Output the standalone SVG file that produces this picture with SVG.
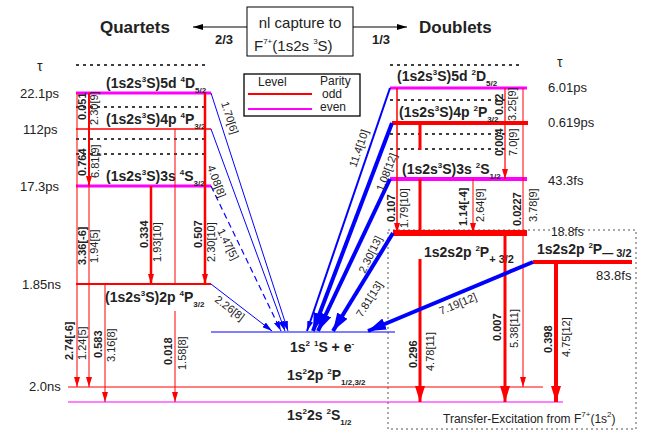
<svg xmlns="http://www.w3.org/2000/svg" width="649" height="439" viewBox="0 0 649 439">
<style>
text{font-family:"Liberation Sans",Arial,sans-serif;fill:#222}
.b{font-weight:bold}
.lv{font-weight:bold;font-size:14px}
.n{font-size:11px}
.nb{font-size:11px;font-weight:bold}
.big{font-weight:bold;font-size:17px}
.sub{font-size:8px}
.r{stroke:#f00;fill:none}
.m{stroke:#f0f;fill:none}
.bl{stroke:#00f;fill:none}
.dot{stroke:#000;stroke-width:1.3;stroke-dasharray:3,4}
</style>
<defs>
<marker id="rs" markerUnits="userSpaceOnUse" markerWidth="10" markerHeight="6" refX="10" refY="3" orient="auto" viewBox="0 0 10 6"><path d="M0,0L10,3L0,6Z" fill="#f00"/></marker>
<marker id="rb" markerUnits="userSpaceOnUse" markerWidth="16" markerHeight="10" refX="16" refY="5" orient="auto" viewBox="0 0 16 10"><path d="M0,0L16,5L0,10Z" fill="#f00"/></marker>
<marker id="bs" markerUnits="userSpaceOnUse" markerWidth="10" markerHeight="6" refX="10" refY="3" orient="auto" viewBox="0 0 10 6"><path d="M0,0L10,3L0,6Z" fill="#00f"/></marker>
<marker id="bb" markerUnits="userSpaceOnUse" markerWidth="18" markerHeight="12" refX="18" refY="6" orient="auto" viewBox="0 0 18 12"><path d="M0,0L18,6L0,12Z" fill="#00f"/></marker>
<marker id="k" markerUnits="userSpaceOnUse" markerWidth="10" markerHeight="6" refX="10" refY="3" orient="auto" viewBox="0 0 10 6"><path d="M0,0L10,3L0,6Z" fill="#000"/></marker>
</defs>

<g id="header">
<rect x="247" y="7" width="106" height="49" fill="none" stroke="#000"/>
<text x="300" y="28" font-size="15" text-anchor="middle">nl capture to</text>
<text x="254" y="51" font-size="15">F<tspan class="sub" dy="-7">7+</tspan><tspan dy="7">(1s2s  </tspan><tspan class="sub" dy="-7">3</tspan><tspan dy="7">S)</tspan></text>
<line x1="247" y1="27" x2="193" y2="27" stroke="#000" marker-end="url(#k)"/>
<line x1="353" y1="27" x2="407" y2="27" stroke="#000" marker-end="url(#k)"/>
<text x="100" y="33" class="big">Quartets</text>
<text x="419" y="33" class="big">Doublets</text>
<text x="215" y="44" class="b" font-size="13">2/3</text>
<text x="372" y="44" class="b" font-size="13">1/3</text>
</g>

<g id="legend">
<rect x="244" y="74" width="116" height="42" fill="#fff" stroke="#000" stroke-width="1.3"/>
<text x="258" y="86" font-size="12">Level</text>
<text x="320" y="85" font-size="12">Parity</text>
<line x1="248" y1="94" x2="312" y2="94" class="r" stroke-width="2"/>
<text x="322" y="98" font-size="12">odd</text>
<line x1="248" y1="109" x2="312" y2="109" class="m" stroke-width="2"/>
<text x="320" y="111" font-size="12">even</text>
</g>

<g id="dotted">
<line x1="76" y1="65" x2="207" y2="65" class="dot"/>
<line x1="76" y1="107" x2="205" y2="107" class="dot"/>
<line x1="76" y1="139" x2="205" y2="139" class="dot"/>
<line x1="76" y1="154" x2="205" y2="154" class="dot"/>
<line x1="390" y1="65" x2="522" y2="65" class="dot"/>
<line x1="390" y1="100" x2="505" y2="100" class="dot"/>
<line x1="390" y1="134" x2="505" y2="134" class="dot"/>
<line x1="390" y1="149" x2="505" y2="149" class="dot"/>
<rect x="388" y="230" width="248" height="199" fill="none" stroke="#555" stroke-dasharray="2,3"/>
</g>

<g id="quartet-levels">
<text x="37" y="71" font-size="14">τ</text>
<line x1="76" y1="93" x2="211" y2="93" class="m" stroke-width="3"/>
<text x="106" y="88" class="lv">(1s2s<tspan class="sub" dy="-6">3</tspan><tspan dy="6">S)5d </tspan><tspan class="sub" dy="-6">4</tspan><tspan dy="6">D</tspan><tspan class="sub" dy="5">5/2</tspan></text>
<line x1="76" y1="129" x2="211" y2="129" class="r" stroke-width="1.5"/>
<text x="106" y="124" class="lv">(1s2s<tspan class="sub" dy="-6">3</tspan><tspan dy="6">S)4p </tspan><tspan class="sub" dy="-6">4</tspan><tspan dy="6">P</tspan><tspan class="sub" dy="5">3/2</tspan></text>
<line x1="76" y1="186" x2="211" y2="186" class="m" stroke-width="3"/>
<text x="106" y="181" class="lv">(1s2s<tspan class="sub" dy="-6">3</tspan><tspan dy="6">S)3s </tspan><tspan class="sub" dy="-6">4</tspan><tspan dy="6">S</tspan><tspan class="sub" dy="5">3/2</tspan></text>
<line x1="76" y1="284" x2="211" y2="284" class="r" stroke-width="2"/>
<text x="105" y="302" class="lv">(1s2s<tspan class="sub" dy="-6">3</tspan><tspan dy="6">S)2p </tspan><tspan class="sub" dy="-6">4</tspan><tspan dy="6">P</tspan><tspan class="sub" dy="5">3/2</tspan></text>
<text x="20" y="98" font-size="13">22.1ps</text>
<text x="23" y="134" font-size="13">112ps</text>
<text x="20" y="191" font-size="13">17.3ps</text>
<text x="22" y="289" font-size="13">1.85ns</text>
<text x="29" y="391" font-size="13">2.0ns</text>
</g>

<g id="doublet-levels">
<text x="557" y="67" font-size="14">τ</text>
<line x1="390" y1="88" x2="527" y2="88" class="m" stroke-width="3"/>
<text x="397" y="81" class="lv">(1s2s<tspan class="sub" dy="-6">3</tspan><tspan dy="6">S)5d </tspan><tspan class="sub" dy="-6">2</tspan><tspan dy="6">D</tspan><tspan class="sub" dy="5">5/2</tspan></text>
<line x1="392" y1="123" x2="528" y2="123" class="r" stroke-width="4"/>
<text x="399" y="117" class="lv">(1s2s<tspan class="sub" dy="-6">3</tspan><tspan dy="6">S)4p </tspan><tspan class="sub" dy="-6">2</tspan><tspan dy="6">P</tspan><tspan class="sub" dy="5">3/2</tspan></text>
<line x1="390" y1="179" x2="527" y2="179" class="m" stroke-width="4"/>
<text x="402" y="174" class="lv">(1s2s<tspan class="sub" dy="-6">3</tspan><tspan dy="6">S)3s </tspan><tspan class="sub" dy="-6">2</tspan><tspan dy="6">S</tspan><tspan class="sub" dy="5">1/2</tspan></text>
<line x1="393" y1="233" x2="527" y2="233" class="r" stroke-width="6"/>
<text x="424" y="257" class="lv">1s2s2p <tspan class="sub" dy="-6">2</tspan><tspan dy="6">P</tspan><tspan font-size="11" dy="6">+ 3/2</tspan></text>
<line x1="533" y1="262" x2="632" y2="262" class="r" stroke-width="4"/>
<text x="537" y="254" class="lv">1s2s2p <tspan class="sub" dy="-6">2</tspan><tspan dy="6">P</tspan><tspan font-size="11" dy="3">— 3/2</tspan></text>
<text x="548" y="92" font-size="13">6.01ps</text>
<text x="548" y="127" font-size="13">0.619ps</text>
<text x="548" y="185" font-size="13">43.3fs</text>
<text x="551" y="236" font-size="12">18.8fs</text>
<text x="596" y="280" font-size="13">83.8fs</text>
</g>

<g id="ground-levels">
<line x1="211" y1="332" x2="395" y2="332" class="bl" stroke-width="1.2"/>
<text x="290" y="352" class="lv">1s<tspan class="sub" dy="-6">2</tspan><tspan dy="6"> </tspan><tspan class="sub" dy="-6">1</tspan><tspan dy="6">S + e</tspan><tspan class="sub" dy="-6">-</tspan></text>
<line x1="68" y1="387" x2="543" y2="387" class="r" stroke-width="1"/>
<text x="287" y="380" class="lv">1s<tspan class="sub" dy="-6">2</tspan><tspan dy="6">2p </tspan><tspan class="sub" dy="-6">2</tspan><tspan dy="6">P</tspan><tspan class="sub" dy="5">1/2,3/2</tspan></text>
<line x1="68" y1="402" x2="563" y2="402" class="m" stroke-width="1"/>
<text x="287" y="420" class="lv">1s<tspan class="sub" dy="-6">2</tspan><tspan dy="6">2s </tspan><tspan class="sub" dy="-6">2</tspan><tspan dy="6">S</tspan><tspan class="sub" dy="5">1/2</tspan></text>
<text x="443" y="423" font-size="12">Transfer-Excitation from F<tspan class="sub" dy="-6">7+</tspan><tspan dy="6">(1s</tspan><tspan class="sub" dy="-6">2</tspan><tspan dy="6">)</tspan></text>
</g>

<g id="connectors">
<line x1="77" y1="93" x2="77" y2="387" class="r" stroke-width="1" marker-end="url(#rs)"/>
<line x1="89" y1="93" x2="89" y2="186" class="r" stroke-width="2" marker-end="url(#rs)"/>
<line x1="89" y1="186" x2="89" y2="387" class="r" stroke-width="1" marker-end="url(#rs)"/>
<line x1="151" y1="186" x2="151" y2="284" class="r" stroke-width="2.5" marker-end="url(#rs)"/>
<line x1="175" y1="129" x2="175" y2="284" class="r" stroke-width="1"/>
<line x1="205" y1="93" x2="205" y2="284" class="r" stroke-width="2.5" marker-end="url(#rs)"/>
<line x1="105" y1="284" x2="105" y2="402" class="r" stroke-width="1" marker-end="url(#rs)"/>
<line x1="175" y1="311" x2="175" y2="402" class="r" stroke-width="1" marker-end="url(#rs)"/>
<line x1="211" y1="93" x2="288" y2="331" class="bl" stroke-width="1" marker-end="url(#bs)"/>
<line x1="211" y1="129" x2="285" y2="331" class="bl" stroke-width="1" marker-end="url(#bs)"/>
<line x1="211" y1="186" x2="281" y2="331" class="bl" stroke-width="1.2" stroke-dasharray="6,4" marker-end="url(#bs)"/>
<line x1="211" y1="284" x2="272" y2="331" class="bl" stroke-width="1" marker-end="url(#bs)"/>
<line x1="397" y1="88" x2="397" y2="233" class="r" stroke-width="1.5" marker-end="url(#rs)"/>
<line x1="420" y1="123" x2="420" y2="150" class="r" stroke-width="3"/>
<line x1="420" y1="179" x2="420" y2="233" class="r" stroke-width="3"/>
<line x1="505" y1="88" x2="505" y2="179" class="r" stroke-width="1.2" marker-end="url(#rs)"/>
<line x1="523" y1="88" x2="523" y2="387" class="r" stroke-width="1" marker-end="url(#rs)"/>
<line x1="473" y1="179" x2="473" y2="233" class="r" stroke-width="1" marker-end="url(#rs)"/>
<line x1="505" y1="233" x2="505" y2="402" class="r" stroke-width="3" marker-end="url(#rb)"/>
<line x1="420" y1="259" x2="420" y2="402" class="r" stroke-width="3" marker-end="url(#rb)"/>
<line x1="556" y1="262" x2="556" y2="402" class="r" stroke-width="4" marker-end="url(#rb)"/>
<line x1="390" y1="88" x2="307" y2="331" class="bl" stroke-width="2" marker-end="url(#bs)"/>
<line x1="392" y1="123" x2="313" y2="331" class="bl" stroke-width="4" marker-end="url(#bb)"/>
<line x1="390" y1="179" x2="318" y2="331" class="bl" stroke-width="4" marker-end="url(#bb)"/>
<line x1="393" y1="233" x2="333" y2="331" class="bl" stroke-width="4" marker-end="url(#bb)"/>
<line x1="533" y1="262" x2="368" y2="331" class="bl" stroke-width="4" marker-end="url(#bb)"/>
</g>

<g id="rates">
<text class="nb" transform="translate(86,120) rotate(-90)">0.051</text>
<text class="n" transform="translate(98,125) rotate(-90)">2.30[9]</text>
<text class="nb" transform="translate(86,176) rotate(-90)">0.764</text>
<text class="n" transform="translate(99,178) rotate(-90)">6.81[9]</text>
<text class="nb" transform="translate(86,265) rotate(-90)">3.36[-6]</text>
<text class="n" transform="translate(98,263) rotate(-90)">1.94[5]</text>
<text class="nb" transform="translate(148,248) rotate(-90)">0.334</text>
<text class="n" transform="translate(161,262) rotate(-90)">1.93[10]</text>
<text class="nb" transform="translate(202,248) rotate(-90)">0.507</text>
<text class="n" transform="translate(215,262) rotate(-90)">2.30[10]</text>
<text class="nb" transform="translate(73,360) rotate(-90)">2.74[-6]</text>
<text class="n" transform="translate(86,360) rotate(-90)">1.24[5]</text>
<text class="nb" transform="translate(102,358) rotate(-90)">0.583</text>
<text class="n" transform="translate(115,362) rotate(-90)">3.16[8]</text>
<text class="nb" transform="translate(172,365) rotate(-90)">0.018</text>
<text class="n" transform="translate(186,370) rotate(-90)">1.58[8]</text>
<text class="n" transform="translate(221,103) rotate(72)">1.70[6]</text>
<text class="n" transform="translate(207,167) rotate(69)">4.08[8]</text>
<text class="n" transform="translate(217,231) rotate(63)">1.47[5]</text>
<text class="n" transform="translate(214,301) rotate(37)">2.26[8]</text>
<text class="n" transform="translate(356,168) rotate(-71)">11.4[10]</text>
<text class="n" transform="translate(383,192) rotate(-69)">1.08[12]</text>
<text class="n" transform="translate(365,274) rotate(-64)">2.30[13]</text>
<text class="n" transform="translate(362,318) rotate(-58)">7.81[13]</text>
<text class="n" transform="translate(441,315) rotate(-22.7)">7.19[12]</text>
<text class="nb" transform="translate(395,222) rotate(-90)">0.107</text>
<text class="n" transform="translate(408,228) rotate(-90)">1.79[10]</text>
<text class="nb" transform="translate(503,115) rotate(-90)">0.02</text>
<text class="n" transform="translate(516,121) rotate(-90)">3.25[9]</text>
<text class="nb" transform="translate(503,156) rotate(-90)">0.004</text>
<text class="n" transform="translate(517,156) rotate(-90)">7.0[9]</text>
<text class="nb" transform="translate(467,226) rotate(-90)">1.14[-4]</text>
<text class="n" transform="translate(484,222) rotate(-90)">2.64[9]</text>
<text class="nb" transform="translate(521,226) rotate(-90)">0.0227</text>
<text class="n" transform="translate(537,222) rotate(-90)">3.78[9]</text>
<text class="nb" transform="translate(417,368) rotate(-90)">0.296</text>
<text class="n" transform="translate(434,371) rotate(-90)">4.78[11]</text>
<text class="nb" transform="translate(501,341) rotate(-90)">0.007</text>
<text class="n" transform="translate(518,348) rotate(-90)">5.38[11]</text>
<text class="nb" transform="translate(552,353) rotate(-90)">0.398</text>
<text class="n" transform="translate(570,357) rotate(-90)">4.75[12]</text>
</g>
</svg>
